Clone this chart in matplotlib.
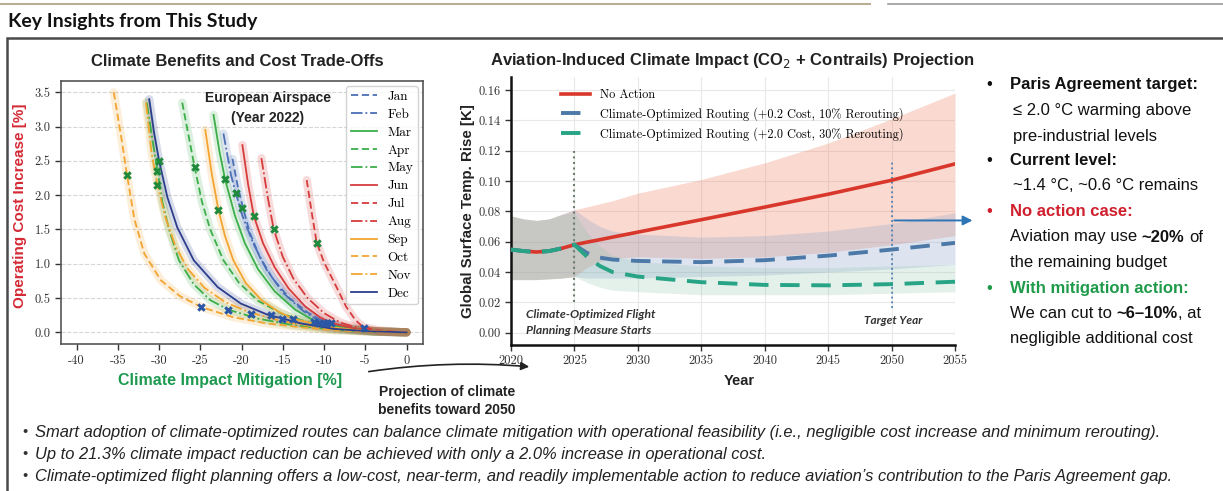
import matplotlib
matplotlib.use('Agg')
import matplotlib.pyplot as plt
from matplotlib.patches import Rectangle, FancyArrowPatch
from matplotlib.lines import Line2D
from matplotlib.ticker import FormatStrFormatter, MultipleLocator

plt.rcParams['axes.unicode_minus'] = False
plt.rcParams['font.family'] = ['Liberation Sans', 'DejaVu Sans']

# ---------------- data: left panel (cost vs. mitigation, per month) ----------------
months = ['Jan', 'Feb', 'Mar', 'Apr', 'May', 'Jun', 'Jul', 'Aug', 'Sep', 'Oct', 'Nov', 'Dec']

jan_x = [-21.1, -20.5, -19.8, -19.0, -17.8, -16.2, -14.2, -12.0, -9.8, -7.0, -3.5, 0]
jan_y = [2.53, 2.15, 1.80, 1.45, 1.10, 0.78, 0.50, 0.29, 0.14, 0.05, 0.01, 0]
feb_x = [-22.2, -21.3, -20.7, -19.9, -18.6, -17.0, -15.0, -12.5, -10.4, -7.0, -3.5, 0]
feb_y = [2.90, 2.30, 2.03, 1.70, 1.30, 0.92, 0.58, 0.31, 0.15, 0.05, 0.01, 0]
mar_x = [-23.4, -22.7, -22.0, -20.8, -19.6, -18.0, -16.0, -13.5, -11.2, -8.0, -4.0, 0]
mar_y = [3.17, 2.65, 2.23, 1.70, 1.30, 0.92, 0.60, 0.33, 0.17, 0.07, 0.015, 0]
apr_x = [-27.2, -26.4, -25.7, -24.8, -23.8, -22.2, -20.3, -18.0, -15.1, -12.0, -8.0, -4.0, 0]
apr_y = [3.35, 2.85, 2.41, 1.90, 1.50, 1.05, 0.72, 0.46, 0.27, 0.15, 0.06, 0.015, 0]
may_x = [-31.5, -30.8, -30.2, -29.6, -28.8, -27.6, -25.8, -23.8, -21.6, -18.0, -14.0, -9.0, -4.0, 0]
may_y = [3.35, 2.80, 2.35, 1.90, 1.50, 1.05, 0.70, 0.47, 0.33, 0.20, 0.11, 0.04, 0.01, 0]
jun_x = [-19.9, -19.2, -18.5, -17.4, -16.0, -14.3, -12.3, -10.5, -9.2, -6.0, -3.0, 0]
jun_y = [2.73, 2.15, 1.69, 1.30, 0.95, 0.64, 0.38, 0.22, 0.14, 0.045, 0.01, 0]
jul_x = [-12.1, -11.5, -10.9, -10.0, -8.9, -7.3, -6.2, -5.3, -3.5, -1.5, 0]
jul_y = [2.22, 1.75, 1.31, 1.02, 0.76, 0.37, 0.18, 0.08, 0.03, 0.01, 0]
aug_x = [-17.6, -16.8, -16.1, -15.0, -13.7, -12.0, -10.0, -8.0, -5.5, -3.0, 0]
aug_y = [2.54, 1.95, 1.50, 1.10, 0.78, 0.50, 0.28, 0.14, 0.05, 0.01, 0]
sep_x = [-24.4, -23.6, -22.8, -22.0, -21.0, -19.5, -17.5, -15.5, -13.8, -10.0, -6.0, -3.0, 0]
sep_y = [2.95, 2.30, 1.78, 1.40, 1.05, 0.72, 0.46, 0.30, 0.20, 0.09, 0.03, 0.01, 0]
oct_x = [-35.5, -34.6, -33.9, -33.0, -31.8, -29.8, -27.5, -24.9, -21.0, -16.9, -12.5, -8.8, -4.5, 0]
oct_y = [3.50, 2.85, 2.30, 1.65, 1.15, 0.76, 0.53, 0.37, 0.22, 0.13, 0.07, 0.03, 0.01, 0]
nov_x = [-31.6, -30.9, -30.2, -29.3, -28.0, -26.5, -24.5, -22.0, -19.0, -15.0, -10.0, -5.0, 0]
nov_y = [3.35, 2.60, 2.15, 1.70, 1.25, 0.92, 0.65, 0.44, 0.29, 0.16, 0.06, 0.02, 0]
dec_x = [-31.2, -30.6, -30.0, -29.0, -27.8, -25.8, -22.9, -20.1, -16.9, -12.8, -8.8, -4.5, 0]
dec_y = [3.40, 2.90, 2.50, 1.97, 1.53, 1.05, 0.66, 0.42, 0.26, 0.13, 0.05, 0.015, 0]

curves_x = [jan_x, feb_x, mar_x, apr_x, may_x, jun_x, jul_x, aug_x, sep_x, oct_x, nov_x, dec_x]
curves_y = [jan_y, feb_y, mar_y, apr_y, may_y, jun_y, jul_y, aug_y, sep_y, oct_y, nov_y, dec_y]

green_mk_x = [-33.9, -30.0, -30.2, -30.2, -25.7, -22.8, -22.0, -20.7, -19.9, -18.5, -16.1, -10.9]
green_mk_y = [2.30, 2.50, 2.35, 2.15, 2.41, 1.78, 2.23, 2.03, 1.81, 1.69, 1.50, 1.31]
blue_mk_x = [-24.9, -21.6, -18.8, -16.4, -15.1, -13.8, -11.2, -10.6, -10.0, -9.6, -9.2, -5.2]
blue_mk_y = [0.37, 0.33, 0.27, 0.25, 0.19, 0.20, 0.15, 0.14, 0.14, 0.13, 0.14, 0.07]

# ---------------- data: middle panel (temperature projection) ----------------
years = [2020, 2021, 2022, 2023, 2024, 2025, 2026, 2027, 2028, 2030, 2035, 2040, 2045, 2050, 2055]
no_action = [0.0548, 0.0538, 0.0532, 0.0538, 0.0556, 0.0580, 0.0597, 0.0613, 0.0630, 0.0663, 0.0745, 0.0828, 0.0913, 0.1005, 0.1113]
cost_02 = [0.0548, 0.0538, 0.0532, 0.0538, 0.0556, 0.0580, 0.0525, 0.0495, 0.0482, 0.0473, 0.0465, 0.0478, 0.0508, 0.0548, 0.0592]
cost_20 = [0.0548, 0.0538, 0.0532, 0.0538, 0.0556, 0.0580, 0.0500, 0.0440, 0.0400, 0.0370, 0.0333, 0.0315, 0.0312, 0.0320, 0.0336]

na_hi = [0.077, 0.075, 0.074, 0.075, 0.078, 0.081, 0.083, 0.085, 0.087, 0.092, 0.101, 0.112, 0.125, 0.141, 0.158]
na_lo = [0.035, 0.035, 0.035, 0.0355, 0.036, 0.037, 0.043, 0.047, 0.049, 0.050, 0.049, 0.050, 0.053, 0.058, 0.064]
c02_hi = [0.077, 0.075, 0.074, 0.075, 0.078, 0.081, 0.075, 0.070, 0.067, 0.065, 0.063, 0.064, 0.067, 0.072, 0.079]
c02_lo = [0.035, 0.035, 0.035, 0.0355, 0.036, 0.037, 0.036, 0.036, 0.036, 0.036, 0.037, 0.038, 0.040, 0.042, 0.045]
c20_hi = [0.077, 0.075, 0.074, 0.075, 0.078, 0.079, 0.066, 0.057, 0.051, 0.047, 0.044, 0.043, 0.043, 0.044, 0.045]
c20_lo = [0.035, 0.035, 0.035, 0.0355, 0.036, 0.037, 0.033, 0.030, 0.028, 0.027, 0.025, 0.025, 0.025, 0.026, 0.027]

series_labels = ['No Action',
                 'Climate-Optimized Routing (+0.2 Cost, 10% Rerouting)',
                 'Climate-Optimized Routing (+2.0 Cost, 30% Rerouting)']

right_notes = ['Paris Agreement target:', '≤ 2.0 °C warming above', 'pre-industrial levels',
               'Current level:', '~1.4 °C, ~0.6 °C remains',
               'No action case:', 'the remaining budget',
               'With mitigation action:', 'negligible additional cost']

bottom_notes = [
    'Smart adoption of climate-optimized routes can balance climate mitigation with operational feasibility (i.e., negligible cost increase and minimum rerouting).',
    'Up to 21.3% climate impact reduction can be achieved with only a 2.0% increase in operational cost.',
    'Climate-optimized flight planning offers a low-cost, near-term, and readily implementable action to reduce aviation\u2019s contribution to the Paris Agreement gap.',
]

# ---------------- layout helpers (pixel coords from top-left) ----------------
W, H = 1223, 491


def fx(x):
    return x / W


def fy(y):
    return 1 - y / H


fig = plt.figure(figsize=(W / 100, H / 100), dpi=100)
fig.patch.set_facecolor('white')

# header
fig.add_artist(Line2D([0, fx(870)], [fy(4), fy(4)], color='#b9ad98', lw=1.5, transform=fig.transFigure))
fig.add_artist(Line2D([fx(888), 1], [fy(4), fy(4)], color='#9a9a9a', lw=1.2, transform=fig.transFigure))
fig.text(fx(8), fy(21), 'Key Insights from This Study', family='Lato', weight='bold', fontsize=14,
         va='center', ha='left', color='#111111')
fig.add_artist(Rectangle((fx(7), -0.1), 1.0, fy(38) + 0.1, transform=fig.transFigure,
                         fill=False, ec='#4a4a4a', lw=1.8))

# ---------------- left panel ----------------
ax1 = fig.add_axes([fx(61), fy(344), (423 - 61) / W, (344 - 81) / H])
month_colors = ['#4c6fb5', '#4c6fb5', '#3cae4a', '#3cae4a', '#3cae4a', '#d63c3c',
                '#d63c3c', '#d63c3c', '#f2a531', '#f2a531', '#f2a531', '#2c3e8c']
month_styles = [(0, (4, 2)), '-.', '-', (0, (4, 2)), '-.', '-',
                (0, (4, 2)), '-.', '-', (0, (4, 2)), '-.', '-']

for cx, cy, c in zip(curves_x, curves_y, month_colors):
    ax1.plot(cx, cy, color=c, lw=6, alpha=0.18, solid_capstyle='round', zorder=1)
for cx, cy, c, ls, m in zip(curves_x, curves_y, month_colors, month_styles, months):
    ax1.plot(cx, cy, color=c, lw=1.3, ls=ls, label=m, zorder=2)

ax1.scatter(green_mk_x, green_mk_y, marker='X', s=38, color='#1f8a3c', zorder=5, linewidths=0)
ax1.scatter(blue_mk_x, blue_mk_y, marker='X', s=38, color='#2a56a6', zorder=5, linewidths=0)

ax1.set_xlim(-41.9, 2.0)
ax1.set_ylim(-0.17, 3.665)
ax1.xaxis.set_major_locator(MultipleLocator(5))
ax1.yaxis.set_major_locator(MultipleLocator(0.5))
ax1.yaxis.set_major_formatter(FormatStrFormatter('%.1f'))
ax1.yaxis.grid(True, ls='--', color='#d6d6d6', lw=0.8)
ax1.set_axisbelow(True)
for s in ax1.spines.values():
    s.set_color('#555555')
    s.set_linewidth(1.2)
ax1.tick_params(labelsize=9, labelfontfamily='cmr10', colors='#333333', length=4, width=1)
ax1.legend(loc='upper right', bbox_to_anchor=(fx(418), fy(86)), bbox_transform=fig.transFigure,
           prop={'family': 'cmr10', 'size': 9.5}, handlelength=2.0, handletextpad=0.8,
           labelspacing=0.43, borderaxespad=0, borderpad=0.35, framealpha=0.85,
           edgecolor='#cccccc', fancybox=True)

fig.text(fx(237), fy(62), 'Climate Benefits and Cost Trade-Offs', weight='bold', fontsize=12,
         ha='center', va='center', color='#222222')
fig.text(fx(268), fy(98), 'European Airspace', weight='bold', fontsize=10, ha='center', va='center', color='#222222')
fig.text(fx(268), fy(118), '(Year 2022)', weight='bold', fontsize=10, ha='center', va='center', color='#222222')
fig.text(fx(20), fy(206), 'Operating Cost Increase [%]', weight='bold', fontsize=11, rotation=90,
         ha='center', va='center', color='#d42a35')
fig.text(fx(230), fy(380), 'Climate Impact Mitigation [%]', weight='bold', fontsize=11.5,
         ha='center', va='center', color='#1e9a50')

# ---------------- middle panel ----------------
ax2 = fig.add_axes([fx(511), fy(344.5), (955 - 511) / W, (344.5 - 76.7) / H])
ax2.fill_between(years, na_lo, na_hi, color='#ef8a6e', alpha=0.32, lw=0, zorder=1)
ax2.fill_between(years, c02_lo, c02_hi, color='#8aa0c8', alpha=0.28, lw=0, zorder=1)
ax2.fill_between(years, c20_lo, c20_hi, color='#86c0a8', alpha=0.22, lw=0, zorder=1)
ax2.plot(years, no_action, color='#d9372b', lw=2.6, label=series_labels[0], zorder=3)
ax2.plot(years, cost_02, color='#4d79a8', lw=2.8, ls=(0, (5, 3)), label=series_labels[1], zorder=4)
ax2.plot(years, cost_20, color='#27a385', lw=2.8, ls=(0, (5, 3)), label=series_labels[2], zorder=5)

ax2.plot([2025, 2025], [0.020, 0.120], ls=':', color='#6d7f6d', lw=1.5, zorder=2)
ax2.plot([2050, 2050], [0.016, 0.114], ls=':', color='#4f7fb0', lw=1.3, zorder=2)
ax2.annotate('', xy=(2056.6, 0.074), xytext=(2050, 0.074), annotation_clip=False,
             arrowprops=dict(arrowstyle='-|>', color='#2e75b6', lw=1.4, mutation_scale=14))

ax2.set_xlim(2020, 2055)
ax2.set_ylim(-0.0078, 0.1688)
ax2.xaxis.set_major_locator(MultipleLocator(5))
ax2.yaxis.set_major_locator(MultipleLocator(0.02))
ax2.yaxis.set_major_formatter(FormatStrFormatter('%.2f'))
ax2.grid(True, color='#e8e8e8', lw=0.8)
ax2.set_axisbelow(True)
ax2.spines['top'].set_visible(False)
ax2.spines['right'].set_visible(False)
for s in ('left', 'bottom'):
    ax2.spines[s].set_color('#111111')
    ax2.spines[s].set_linewidth(1.8)
ax2.tick_params(labelsize=9, labelfontfamily='cmr10', colors='#333333', length=4, width=1)
ax2.legend(loc='upper left', bbox_to_anchor=(fx(561), fy(89)), bbox_transform=fig.transFigure,
           prop={'family': 'cmr10', 'size': 8.8}, frameon=False, handlelength=2.4,
           handletextpad=0.8, labelspacing=0.5, borderpad=0, borderaxespad=0)

fig.text(fx(732), fy(61), 'Aviation-Induced Climate Impact (CO$_2$ + Contrails) Projection',
         weight='bold', fontsize=12, ha='center', va='center', color='#222222')
fig.text(fx(468), fy(211), 'Global Surface Temp. Rise [K]', weight='bold', fontsize=10.8, rotation=90,
         ha='center', va='center', color='#222222')
fig.text(fx(739), fy(381), 'Year', weight='bold', fontsize=10.5, ha='center', va='center', color='#222222')
fig.text(fx(526), fy(315), 'Climate-Optimized Flight', family='Lato', weight='bold', style='italic',
         fontsize=8.7, ha='left', va='center', color='#333333')
fig.text(fx(526), fy(330), 'Planning Measure Starts', family='Lato', weight='bold', style='italic',
         fontsize=8.7, ha='left', va='center', color='#333333')
fig.text(fx(893), fy(320), 'Target Year', family='Lato', weight='bold', style='italic',
         fontsize=8.5, ha='center', va='center', color='#333333')

# curved arrow between panels
fig.add_artist(FancyArrowPatch(posA=(fx(366), fy(372)), posB=(fx(532), fy(367)), transform=fig.transFigure,
                               connectionstyle='arc3,rad=-0.06', arrowstyle='-|>', mutation_scale=12,
                               lw=1.2, color='#222222'))
fig.text(fx(447), fy(392), 'Projection of climate', weight='bold', fontsize=10, ha='center', va='center', color='#222222')
fig.text(fx(447), fy(410), 'benefits toward 2050', weight='bold', fontsize=10, ha='center', va='center', color='#222222')

# ---------------- right text block ----------------
renderer = fig.canvas.get_renderer()
RSIZE = 12
RED, GREEN = '#d0202e', '#1f9a4a'


def rich(x, y, parts, size):
    sp = size * 100 / 72 * 0.278
    for text, weight, color in parts:
        if text == ' ':
            x += sp
            continue
        t = fig.text(fx(x), fy(y), text, fontsize=size, weight=weight, color=color, va='center', ha='left')
        x += t.get_window_extent(renderer=renderer).width


def bullet(y, color):
    fig.text(fx(986), fy(y), '\u2022', fontsize=RSIZE, color=color, va='center', ha='left')


bullet(85, '#111111')
fig.text(fx(1010), fy(85), right_notes[0], weight='bold', fontsize=RSIZE, va='center', color='#111111')
fig.text(fx(1013), fy(110.5), right_notes[1], fontsize=RSIZE, va='center', color='#111111')
fig.text(fx(1013), fy(136), right_notes[2], fontsize=RSIZE, va='center', color='#111111')
bullet(160, '#111111')
fig.text(fx(1010), fy(160), right_notes[3], weight='bold', fontsize=RSIZE, va='center', color='#111111')
fig.text(fx(1013), fy(186), right_notes[4], fontsize=RSIZE, va='center', color='#111111')
bullet(211.5, RED)
fig.text(fx(1010), fy(211.5), right_notes[5], weight='bold', fontsize=RSIZE, va='center', color=RED)
rich(1010, 237, [('Aviation may use', 'normal', '#111111'), (' ', '', ''), ('~20%', 'bold', '#111111'),
                 (' ', '', ''), ('of', 'normal', '#111111')], RSIZE)
fig.text(fx(1010), fy(262.5), right_notes[6], fontsize=RSIZE, va='center', color='#111111')
bullet(288, GREEN)
fig.text(fx(1010), fy(288), right_notes[7], weight='bold', fontsize=RSIZE, va='center', color=GREEN)
rich(1010, 313, [('We can cut to', 'normal', '#111111'), (' ', '', ''), ('~6\u201310%', 'bold', '#111111'),
                 (', at', 'normal', '#111111')], RSIZE)
fig.text(fx(1010), fy(338), right_notes[8], fontsize=RSIZE, va='center', color='#111111')

# ---------------- bottom notes ----------------
for yy, note in zip([432, 454, 476], bottom_notes):
    fig.text(fx(22), fy(yy), '\u2022', fontsize=10.5, color='#333333', va='center', ha='left')
    fig.text(fx(35), fy(yy), note, fontsize=11.9, style='italic', color='#222222', va='center', ha='left')

fig.savefig('out.png', dpi=100)
